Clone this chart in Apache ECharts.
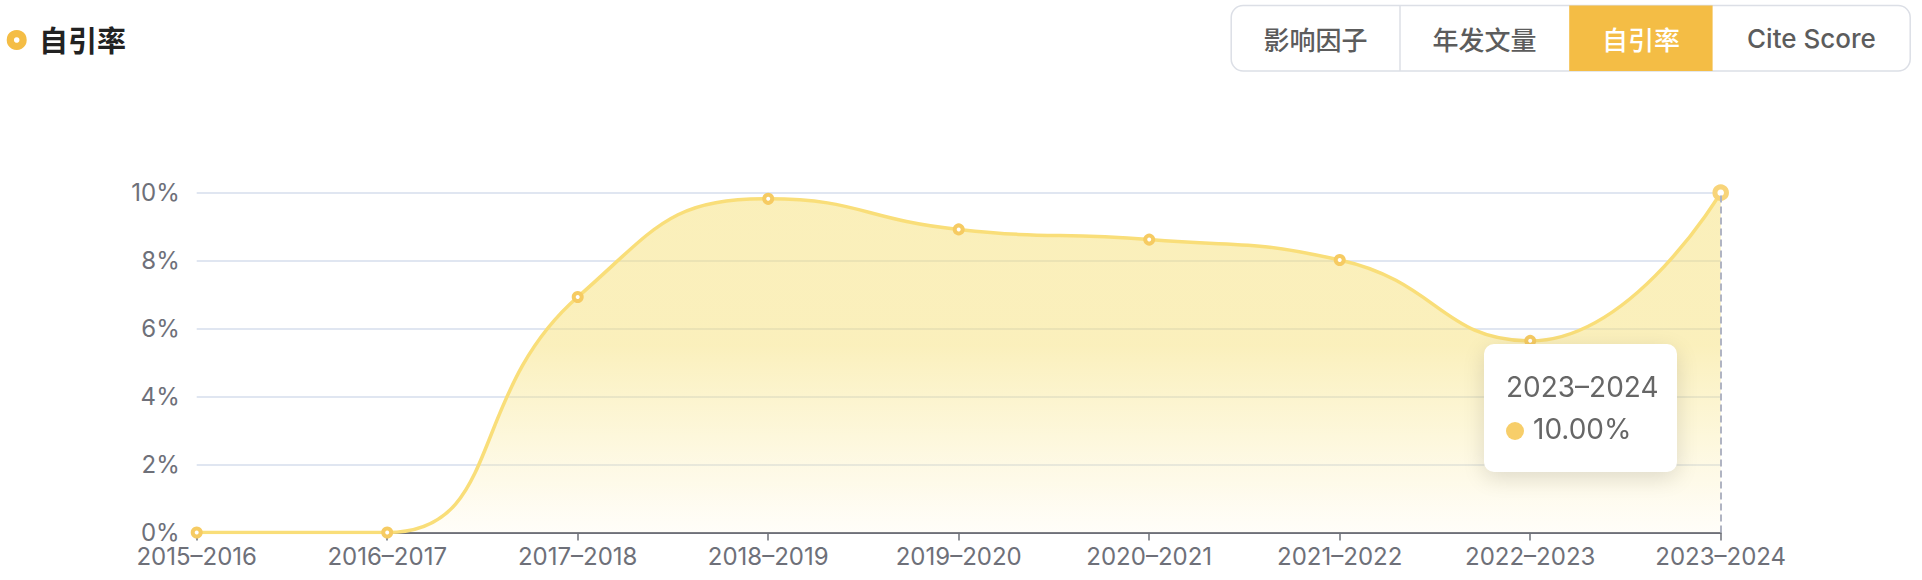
<!DOCTYPE html>
<html>
<head>
<meta charset="utf-8">
<style>
  html, body { margin: 0; padding: 0; background: #fff; }
  #chart { width: 1922px; height: 580px; }
</style>
<script src="https://cdn.jsdelivr.net/npm/echarts@6/dist/echarts.min.js"></script>
</head>
<body>
<div id="chart"></div>
<script>
// ---- data ----
const categories = ['2015–2016', '2016–2017', '2017–2018', '2018–2019', '2019–2020', '2020–2021', '2021–2022', '2022–2023', '2023–2024'];
const selfCitationRate = [0, 0, 6.93, 9.82, 8.92, 8.62, 8.02, 5.64, 10.00];
const yTicks = { min: 0, max: 10, interval: 2 };
const titleText = '自引率';
const tabLabels = ['影响因子', '年发文量', '自引率', 'Cite Score'];
const activeTab = 2;
const highlightedIndex = 8;

// ---- layout / style ----
const tabWidths = [168.8, 169.2, 143.4, 197.6];
const tabLeft = 1231.2, tabTop = 5.5, tabHeight = 65.5;
const FONT_LATIN = 'Inter, "Noto Sans CJK SC", sans-serif';
const FONT_CJK = '"Noto Sans CJK SC", Inter, sans-serif';
const yellow = '#F4BD45';
const markerColor = '#F7CE6A';

const chart = echarts.init(document.getElementById('chart'), null, { renderer: 'svg' });

// tab buttons
const tabElems = [];
let x = tabLeft;
const totalW = tabWidths.reduce((a, b) => a + b, 0);
tabElems.push({
  type: 'rect',
  shape: { x: tabLeft, y: tabTop, width: totalW, height: tabHeight, r: 12 },
  style: { fill: '#fff', stroke: '#DCDFE6', lineWidth: 1.5 },
  z: 10
});
tabLabels.forEach((label, i) => {
  const w = tabWidths[i];
  if (i === activeTab) {
    tabElems.push({
      type: 'rect',
      shape: { x: x, y: tabTop, width: w, height: tabHeight },
      style: { fill: yellow },
      z: 11
    });
  }
  if (i > 0 && i !== activeTab && i - 1 !== activeTab) {
    tabElems.push({
      type: 'line',
      shape: { x1: x, y1: tabTop, x2: x, y2: tabTop + tabHeight },
      style: { stroke: '#DCDFE6', lineWidth: 1.5 },
      z: 11
    });
  }
  tabElems.push({
    type: 'text',
    x: x + w / 2,
    y: tabTop + tabHeight / 2,
    style: {
      text: label,
      fill: i === activeTab ? '#fff' : '#5c5c5c',
      font: '500 26px ' + (/[A-Za-z]/.test(label) ? FONT_LATIN : FONT_CJK),
      align: 'center',
      verticalAlign: 'middle'
    },
    z: 12
  });
  x += w;
});

const option = {
  animation: false,
  grid: { left: 196.7, right: 201.3, top: 192.7, bottom: 47.5, containLabel: false, outerBoundsMode: 'none' },
  graphic: [
    {
      type: 'circle',
      shape: { cx: 16.7, cy: 40, r: 6.4 },
      style: { fill: '#fff', stroke: yellow, lineWidth: 7.2 }
    },
    {
      type: 'text',
      x: 39, y: 39,
      style: {
        text: titleText,
        fill: '#222',
        font: 'bold 29px ' + FONT_CJK,
        verticalAlign: 'middle'
      }
    },
    ...tabElems
  ],
  tooltip: {
    trigger: 'axis',
    triggerOn: 'none',
    alwaysShowContent: true,
    backgroundColor: '#fff',
    borderWidth: 0,
    borderRadius: 10,
    padding: 22,
    extraCssText: 'box-shadow: 0 6px 22px rgba(0,0,0,0.13); width:149px; height:84px; box-sizing:content-box;',
    position: function () { return [1484, 344]; },
    axisPointer: {
      type: 'line',
      lineStyle: { color: '#B0B4C2', type: [7, 4], width: 2 }
    },
    formatter: function (params) {
      const p = params[0];
      const v = Number(p.value).toFixed(2) + '%';
      return '<div style="font-family:' + FONT_LATIN.replace(/"/g, "'") + ';font-size:28px;line-height:42px;color:#666;">' +
        '<div>' + p.name + '</div>' +
        '<div><span style="display:inline-block;width:18px;height:18px;border-radius:50%;background:' + markerColor + ';margin-right:9px;vertical-align:-1px;"></span>' + v + '</div>' +
        '</div>';
    }
  },
  xAxis: {
    type: 'category',
    data: categories,
    boundaryGap: false,
    axisLine: { lineStyle: { color: '#6E7079', width: 2 } },
    axisTick: { alignWithLabel: true, length: 8, lineStyle: { color: '#6E7079', width: 1.5 } },
    axisLabel: { color: '#6E7079', fontSize: 24, fontFamily: FONT_LATIN, margin: 12, interval: 0 },
    splitLine: { show: false }
  },
  yAxis: {
    type: 'value',
    min: yTicks.min,
    max: yTicks.max,
    interval: yTicks.interval,
    axisLine: { show: false },
    axisTick: { show: false },
    axisLabel: { color: '#6E7079', fontSize: 24, fontFamily: FONT_LATIN, margin: 17, formatter: '{value}%' },
    splitLine: { lineStyle: { color: '#E0E6F1', width: 2 } }
  },
  series: [{
    type: 'line',
    smooth: true,
    data: selfCitationRate.map((v, i) => i === highlightedIndex
      ? { value: v, symbolSize: 10.5, itemStyle: { borderWidth: 5, borderColor: '#F8D479' } }
      : v),
    symbol: 'circle',
    symbolSize: 8,
    showSymbol: true,
    itemStyle: { color: '#fff', borderColor: '#F6CB62', borderWidth: 4 },
    lineStyle: { color: '#F9DE79', width: 3.5 },
    emphasis: { disabled: true },
    areaStyle: {
      color: {
        type: 'linear', x: 0, y: 0, x2: 0, y2: 1,
        colorStops: [
          { offset: 0, color: 'rgba(246,224,119,0.72)' },
          { offset: 0.45, color: 'rgba(246,224,119,0.7)' },
          { offset: 0.68, color: 'rgba(248,230,140,0.5)' },
          { offset: 0.86, color: 'rgba(252,238,180,0.4)' },
          { offset: 1, color: 'rgba(255,248,225,0.3)' }
        ]
      }
    },
    z: 3
  }]
};

chart.setOption(option);
chart.dispatchAction({ type: 'showTip', seriesIndex: 0, dataIndex: highlightedIndex });
</script>
</body>
</html>
